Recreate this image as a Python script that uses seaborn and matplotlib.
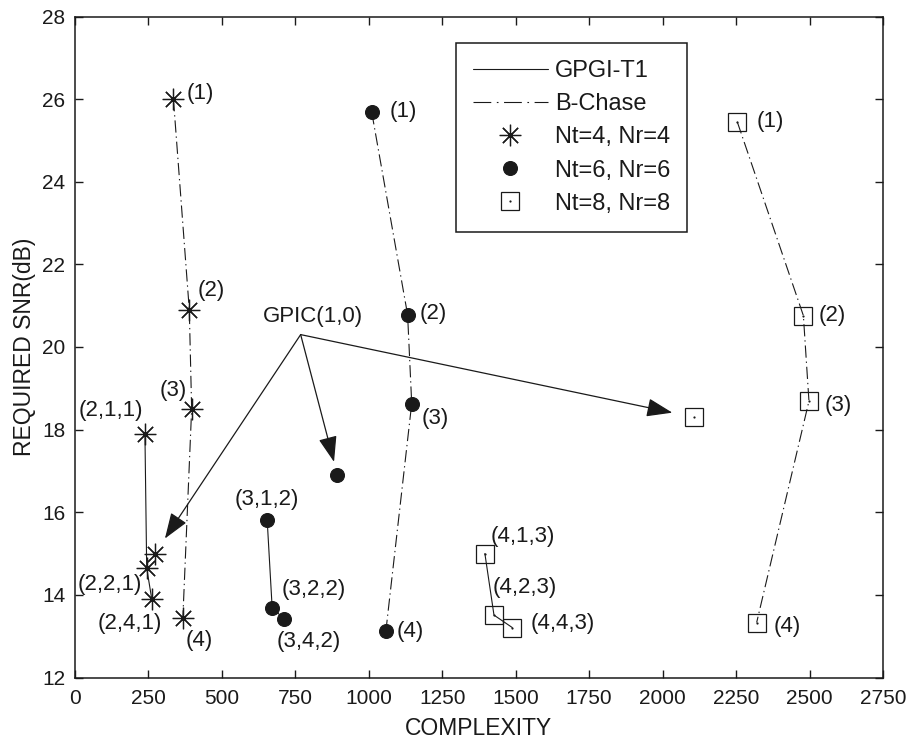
import matplotlib
matplotlib.use("Agg")
import matplotlib.pyplot as plt
from matplotlib.lines import Line2D
from matplotlib.legend_handler import HandlerTuple
from matplotlib.patches import ArrowStyle
import seaborn as sns

# ---------------------------------------------------------------- data
# B-Chase operating points (1)..(4) for each antenna configuration
bchase_cx_4 = [335, 389, 397, 367]
bchase_snr_4 = [26.0, 20.9, 18.5, 13.43]
bchase_cx_6 = [1010, 1132, 1146, 1058]
bchase_snr_6 = [25.68, 20.78, 18.63, 13.12]
bchase_cx_8 = [2254, 2479, 2498, 2320]
bchase_snr_8 = [25.45, 20.76, 18.69, 13.33]
bchase_tags = ["(1)", "(2)", "(3)", "(4)"]

# GPGI-T1 operating points
gpgi_cx_4 = [238, 244, 261]
gpgi_snr_4 = [17.9, 14.65, 13.91]
gpgi_tags_4 = ["(2,1,1)", "(2,2,1)", "(2,4,1)"]
gpgi_cx_6 = [654, 671, 711]
gpgi_snr_6 = [15.82, 13.69, 13.42]
gpgi_tags_6 = ["(3,1,2)", "(3,2,2)", "(3,4,2)"]
gpgi_cx_8 = [1395, 1426, 1488]
gpgi_snr_8 = [15.0, 13.51, 13.21]
gpgi_tags_8 = ["(4,1,3)", "(4,2,3)", "(4,4,3)"]

# GPIC(1,0) reference points (Nt=4, 6, 8)
gpic_cx = [272, 893, 2107]
gpic_snr = [15.0, 16.91, 18.30]
gpic_text = "GPIC(1,0)"
gpic_anchor = (768, 20.30)

x_ticks = [0, 250, 500, 750, 1000, 1250, 1500, 1750, 2000, 2250, 2500, 2750]
y_ticks = [12, 14, 16, 18, 20, 22, 24, 26, 28]
x_label = "COMPLEXITY"
y_label = "REQUIRED SNR(dB)"
legend_labels = ["GPGI-T1", "B-Chase", "Nt=4, Nr=4", "Nt=6, Nr=6", "Nt=8, Nr=8"]

# ---------------------------------------------------------------- style
sns.set_theme(style="ticks")
plt.rcParams["font.family"] = ["Liberation Sans", "DejaVu Sans"]
plt.rcParams["text.color"] = "black"
plt.rcParams["axes.labelcolor"] = "black"

W, H = 910, 740
fig = plt.figure(figsize=(W / 100, H / 100), dpi=100)
ax = fig.add_axes([75 / W, (H - 677.5) / H, 808 / W, (677.5 - 16.5) / H])

LW = 0.8
DASHDOT = (0, (11, 3.5, 1.2, 3.5))
STAR = (8, 2, 0)
markers = {
    4: dict(marker=STAR, markersize=15.5, markeredgewidth=0.9,
            markeredgecolor="k", markerfacecolor="k"),
    6: dict(marker="o", markersize=10, markeredgewidth=0.8,
            markeredgecolor="k", markerfacecolor="k"),
    8: dict(marker="s", markersize=13, markeredgewidth=0.9,
            markeredgecolor="k", markerfacecolor="none"),
}
DOT = dict(marker="o", markersize=1.6, markeredgewidth=0,
           markerfacecolor="k", markeredgecolor="k")

series = {
    4: (bchase_cx_4, bchase_snr_4, gpgi_cx_4, gpgi_snr_4, gpgi_tags_4),
    6: (bchase_cx_6, bchase_snr_6, gpgi_cx_6, gpgi_snr_6, gpgi_tags_6),
    8: (bchase_cx_8, bchase_snr_8, gpgi_cx_8, gpgi_snr_8, gpgi_tags_8),
}

for n, (bx, by, gx, gy, _) in series.items():
    sns.lineplot(x=bx, y=by, ax=ax, sort=False, estimator=None, color="k",
                 lw=LW, linestyle=DASHDOT, **markers[n])
    sns.lineplot(x=gx, y=gy, ax=ax, sort=False, estimator=None, color="k",
                 lw=LW, linestyle="-", **markers[n])
    if n == 8:
        sns.lineplot(x=bx, y=by, ax=ax, sort=False, estimator=None,
                     color="k", linestyle="none", **DOT)
        sns.lineplot(x=gx, y=gy, ax=ax, sort=False, estimator=None,
                     color="k", linestyle="none", **DOT)

for i, n in enumerate((4, 6, 8)):
    sns.lineplot(x=[gpic_cx[i]], y=[gpic_snr[i]], ax=ax, estimator=None,
                 color="k", linestyle="none", **markers[n])
    if n == 8:
        sns.lineplot(x=[gpic_cx[i]], y=[gpic_snr[i]], ax=ax, estimator=None,
                     color="k", linestyle="none", **DOT)

# ---------------------------------------------------------------- labels
TXT = 16
# (dx px, dy px, horizontal alignment) for each tag
bchase_place = {
    4: [(13, 6, "left"), (8, 19, "left"), (-5, 18, "right"), (3, -22, "left")],
    6: [(18, 1, "left"), (12, 1, "left"), (10, -15, "left"), (11, 0, "left")],
    8: [(19, 0, "left"), (15, 0, "left"), (16, -4, "left"), (17, -4, "left")],
}
gpgi_place = {
    4: [(-2, 23, "right"), (-5, -16, "right"), (10, -25, "right")],
    6: [(0, 20, "center"), (9, 18, "left"), (-7, -23, "left")],
    8: [(6, 17, "left"), (-1, 28, "left"), (18, 4, "left")],
}

for n, (bx, by, gx, gy, gtags) in series.items():
    for x, y, t, (dx, dy, ha) in zip(bx, by, bchase_tags, bchase_place[n]):
        ax.annotate(t, (x, y), xytext=(dx, dy), textcoords="offset pixels",
                    ha=ha, va="center", fontsize=TXT, color="k")
    for x, y, t, (dx, dy, ha) in zip(gx, gy, gtags, gpgi_place[n]):
        ax.annotate(t, (x, y), xytext=(dx, dy), textcoords="offset pixels",
                    ha=ha, va="center", fontsize=TXT, color="k")

ax.annotate(gpic_text, gpic_anchor, xytext=(12, 18), textcoords="offset pixels",
            ha="center", va="center", fontsize=TXT, color="k")

# arrows from the GPIC(1,0) tag towards its three points
arrow_gap = [13, 9.5, 16]
head = ArrowStyle("-|>", head_length=1.0, head_width=0.36)
for x, y, gap in zip(gpic_cx, gpic_snr, arrow_gap):
    ax.annotate("", xy=(x, y), xytext=gpic_anchor,
                arrowprops=dict(arrowstyle=head, mutation_scale=16, color="k",
                                lw=0.9, shrinkA=0, shrinkB=gap))

# ---------------------------------------------------------------- axes
ax.set_xlim(0, 2750)
ax.set_ylim(12, 28)
ax.set_xticks(x_ticks)
ax.set_yticks(y_ticks)
ax.tick_params(direction="in", length=5.5, width=1.0, top=True, right=True,
               labelsize=15, colors="k")
ax.tick_params(axis="x", pad=8)
ax.tick_params(axis="y", pad=7)
for s in ax.spines.values():
    s.set_visible(True)
    s.set_linewidth(1.1)
    s.set_color("k")
ax.set_xlabel(x_label, fontsize=16.5, labelpad=7, color="k")
ax.set_ylabel(y_label, fontsize=16.5, labelpad=4, color="k")

# ---------------------------------------------------------------- legend
h_gpgi = Line2D([], [], color="k", lw=LW, linestyle="-")
h_bchase = Line2D([], [], color="k", lw=LW, linestyle=(0, (16, 5, 1.5, 5)))
h4 = Line2D([], [], color="k", linestyle="none", **markers[4])
h6 = Line2D([], [], color="k", linestyle="none", **markers[6])
h8 = (Line2D([], [], color="k", linestyle="none", **markers[8]),
      Line2D([], [], color="k", linestyle="none", **DOT))
leg = ax.legend([h_gpgi, h_bchase, h4, h6, h8], legend_labels,
                handler_map={tuple: HandlerTuple(ndivide=1, pad=0)},
                loc="upper left", bbox_to_anchor=(455.7 / W, (H - 43.3) / H),
                bbox_transform=fig.transFigure, borderaxespad=0,
                fontsize=17, frameon=True, fancybox=False, framealpha=1,
                edgecolor="k", borderpad=0.72, labelspacing=0.47,
                handlelength=3.2, handletextpad=0.28)
leg.get_frame().set_linewidth(1.1)
for t in leg.get_texts():
    t.set_color("k")

fig.savefig("out.png", dpi=100, facecolor="white")
